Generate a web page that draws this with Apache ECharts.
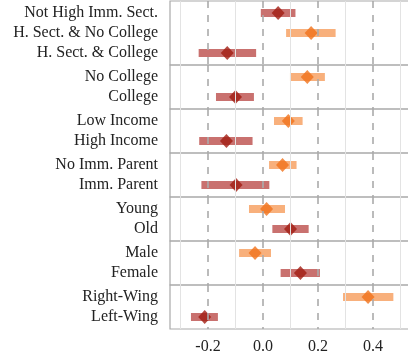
<!DOCTYPE html>
<html>
<head>
<meta charset="utf-8">
<script src="https://cdn.jsdelivr.net/npm/echarts@6/dist/echarts.min.js"></script>
<style>
  html, body { margin: 0; padding: 0; background: #fff; }
  #chart { width: 408px; height: 353px; }
</style>
</head>
<body>
<div id="chart"></div>
<script>
// rows, top to bottom
var labels = [
  'Not High Imm. Sect.', 'H. Sect. & No College', 'H. Sect. & College',
  'No College', 'College',
  'Low Income', 'High Income',
  'No Imm. Parent', 'Imm. Parent',
  'Young', 'Old',
  'Male', 'Female',
  'Right-Wing', 'Left-Wing'
];
var groupSizes = [3, 2, 2, 2, 2, 2, 2];
var estimates = [0.055, 0.175, -0.13, 0.161, -0.10, 0.092, -0.133, 0.071, -0.098, 0.013, 0.10, -0.029, 0.136, 0.382, -0.212];
var lower = [-0.008, 0.084, -0.234, 0.098, -0.171, 0.04, -0.232, 0.022, -0.224, -0.051, 0.034, -0.087, 0.064, 0.291, -0.262];
var upper = [0.118, 0.264, -0.025, 0.225, -0.033, 0.144, -0.038, 0.122, 0.023, 0.08, 0.166, 0.029, 0.207, 0.474, -0.164];
var kind = [0, 1, 0, 1, 0, 1, 0, 1, 0, 1, 0, 1, 0, 1, 0]; // 1 = orange
var tickLabels = [-0.2, 0.0, 0.2, 0.4];
var minorLines = [-0.3, -0.1, 0.1, 0.3, 0.5];

var dotColors = ['#a11d12', '#f0721a'];
var barColors = ['#c9716f', '#f8b07c'];
var font = 'Liberation Serif';

var myChart = echarts.init(document.getElementById('chart'));

var grids = [], xAxes = [], yAxes = [], series = [];
var gridTop = 1, start = 0;
groupSizes.forEach(function (n, g) {
  var h = (n - 1) * 20 + 24;
  var last = g === groupSizes.length - 1;
  // plot runs past the right edge of the canvas
  grids.push({
    left: 170, width: 248, top: gridTop, height: h,
    outerBoundsMode: 'none', containLabel: false,
    show: true, borderColor: '#a9a9a9', borderWidth: 1.2
  });
  gridTop += h;

  xAxes.push({
    gridIndex: g, type: 'value', min: -0.3382, max: 0.5636,
    axisLine: { show: false }, axisTick: { show: false }, splitLine: { show: false },
    axisLabel: last ? {
      customValues: tickLabels,
      formatter: function (v) { return v.toFixed(1); },
      fontFamily: font, fontSize: 16, color: '#222', margin: 10
    } : { show: false }
  });

  var names = labels.slice(start, start + n);
  var idx = names.map(function (_, i) { return i; });
  yAxes.push({
    gridIndex: g, type: 'value', inverse: true, min: -0.6, max: n - 0.4,
    axisLine: { show: false }, axisTick: { show: false }, splitLine: { show: false },
    axisLabel: {
      customValues: idx,
      formatter: function (v) { return names[Math.round(v)]; },
      fontFamily: font, fontSize: 16, color: '#222', margin: 12
    }
  });

  var bars = [], dots = [];
  for (var i = 0; i < n; i++) {
    var k = start + i;
    bars.push([lower[k], upper[k], i, kind[k]]);
    dots.push({ value: [estimates[k], i], itemStyle: { color: dotColors[kind[k]] } });
  }

  // light grid lines + dashed reference lines
  series.push({
    type: 'scatter', xAxisIndex: g, yAxisIndex: g, data: [], silent: true, z: 1,
    markLine: {
      symbol: 'none', silent: true, animation: false, label: { show: false },
      lineStyle: { color: '#e3e3e3', width: 1, type: 'solid' },
      data: minorLines.map(function (v) { return { xAxis: v }; })
    }
  });
  series.push({
    type: 'custom', xAxisIndex: g, yAxisIndex: g, z: 2,
    encode: { x: [0, 1], y: 2 },
    data: bars,
    renderItem: function (params, api) {
      var a = api.coord([api.value(0), api.value(2)]);
      var b = api.coord([api.value(1), api.value(2)]);
      return {
        type: 'rect',
        shape: { x: a[0], y: a[1] - 4, width: b[0] - a[0], height: 8 },
        style: { fill: barColors[api.value(3)] }
      };
    }
  });
  series.push({
    type: 'scatter', xAxisIndex: g, yAxisIndex: g, data: [], silent: true, z: 3,
    markLine: {
      symbol: 'none', silent: true, animation: false, label: { show: false },
      lineStyle: { color: '#ababab', width: 1.6, type: [7, 7] },
      data: tickLabels.map(function (v) { return { xAxis: v }; })
    }
  });
  series.push({
    type: 'scatter', xAxisIndex: g, yAxisIndex: g, z: 4,
    symbol: 'diamond', symbolSize: [13, 14],
    data: dots
  });

  start += n;
});

myChart.setOption({
  animation: false,
  grid: grids,
  xAxis: xAxes,
  yAxis: yAxes,
  series: series
});
</script>
</body>
</html>
